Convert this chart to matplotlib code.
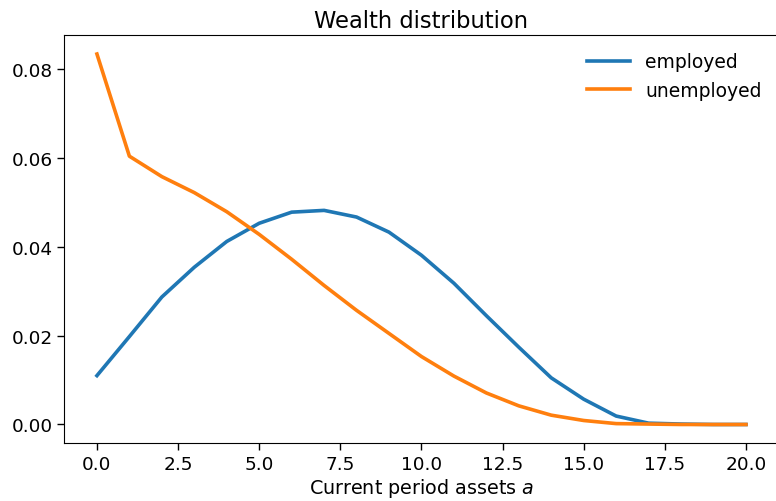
import numpy as np
import matplotlib
matplotlib.use("Agg")
import matplotlib.pyplot as plt

a = np.arange(21)

employed = [0.0110, 0.0198, 0.0287, 0.0354, 0.0412, 0.0453, 0.0478, 0.0482, 0.0467,
            0.0433, 0.0381, 0.0318, 0.0245, 0.0174, 0.0105, 0.0057, 0.0019, 0.0003,
            0.0001, 0.0, 0.0]
unemployed = [0.0834, 0.0604, 0.0558, 0.0522, 0.0479, 0.0428, 0.0372, 0.0313, 0.0257,
              0.0205, 0.0153, 0.0109, 0.0071, 0.0042, 0.0021, 0.0009, 0.0002, 0.0001,
              0.0, 0.0, 0.0]

plt.rcParams["font.size"] = 13.3

fig = plt.figure(figsize=(7.76, 5.02), dpi=100)
ax = fig.add_axes([0.0831, 0.1155, 0.920, 0.8118])

ax.plot(a, employed, lw=2.6, label="employed")
ax.plot(a, unemployed, lw=2.6, label="unemployed")

ax.set_title("Wealth distribution", fontsize=16.3)
ax.set_xlabel("Current period assets $a$", fontsize=13.8, labelpad=2)
ax.set_xticks([0, 2.5, 5, 7.5, 10, 12.5, 15, 17.5, 20])
ax.set_yticks([0.0, 0.02, 0.04, 0.06, 0.08])
ax.tick_params(length=5, width=1)
ax.legend(frameon=False, loc="upper right", handlelength=2.3, fontsize=13.5)

fig.savefig("out.png", dpi=100)
